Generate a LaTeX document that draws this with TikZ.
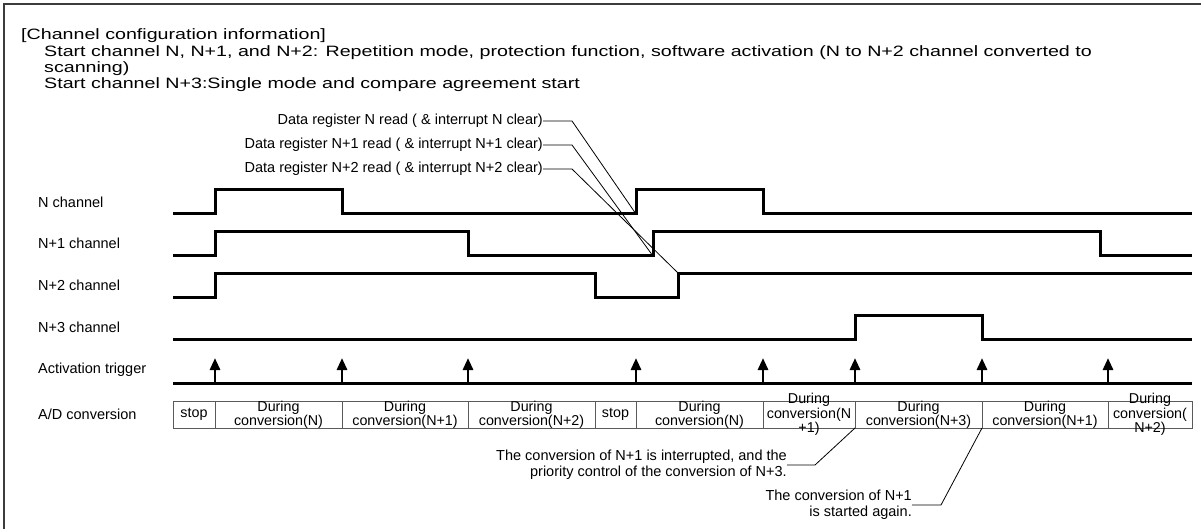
\documentclass[tikz,border=0pt]{standalone}
\usepackage{fontspec}
\setmainfont{Liberation Sans}
\newfontfamily\widefont[FakeStretch=1.31]{Liberation Sans}
\usetikzlibrary{arrows.meta}

\definecolor{tdframe}{RGB}{60, 60, 60}
\definecolor{tdbar}{RGB}{90, 90, 90}

\begin{document}
\begin{tikzpicture}[
    x=1pt, y=-1pt,
    font=\fontsize{14.5}{16}\selectfont,
    every node/.style={inner sep=0pt},
    frame/.style={draw=tdframe, line width=1.3pt},
    wave/.style={line width=3pt, line join=miter},
    trig/.style={line width=2.8pt, -{Triangle[width=10pt, length=12pt]}},
    cell/.style={draw=tdbar, line width=0.9pt},
    callout/.style={line width=0.8pt},
    cfgtext/.style={anchor=base west, font=\widefont\fontsize{15}{16}\selectfont},
    celltext/.style={align=center, font=\fontsize{14.3}{14.3}\selectfont},
  ]
    \useasboundingbox (0,0) rectangle (1201,529);
    \def\xs{173}   % start of the time axis
    \def\xe{1192}  % end of the time axis

    \draw[frame] (1201,4) -- (4,4) -- (4,529);

    % --- channel configuration text ---
    \node[cfgtext] (cfghead) at (21,40) {[Channel configuration information]};
    \node[cfgtext] (cfgrep) at (44,56.5)
      {Start channel N, N+1, and N+2: Repetition mode, protection function, software activation (N to N+2 channel converted to};
    \node[cfgtext] (cfgrepb) at (44,72.5) {scanning)};
    \node[cfgtext] (cfgcmp) at (44,88.5) {Start channel N+3:Single mode and compare agreement start};

    % --- row labels ---
    \foreach \name/\txt/\y in {lblN/N channel/202, lblNa/N+1 channel/243,
        lblNb/N+2 channel/285, lblNc/N+3 channel/327,
        lbltrig/Activation trigger/370, lblad/{A/D conversion}/414} {
      \node[anchor=west] (\name) at (38,\y) {\txt};
    }

    % --- channel waveforms ---
    \draw[wave] (\xs,214) -| (215,190) -| (342,214) -| (636,190) -| (763,214) -- (\xe,214);
    \draw[wave] (\xs,256) -| (215,232) -| (468,256) -| (653,232) -| (1100,256) -- (\xe,256);
    \draw[wave] (\xs,297) -| (215,273) -| (595,297) -| (678,273) -- (\xe,273);
    \draw[wave] (\xs,339) -| (855,315) -| (982,339) -- (\xe,339);
    \coordinate (riseN) at (636,214);
    \coordinate (riseNa) at (653,256);
    \coordinate (riseNb) at (678,273);

    % --- activation trigger ---
    \draw[wave] (\xs,383) -- (\xe,383);
    \foreach \t in {215,342,468,636,763,855,982,1108}
      \draw[trig] (\t,383) -- (\t,358);

    % --- A/D conversion bar ---
    \foreach \xa/\xb/\txt [count=\i] in {173/215/stop,
        215/342/{During\\conversion(N)}, 342/468/{During\\conversion(N+1)},
        468/595/{During\\conversion(N+2)}, 595/636/stop,
        636/763/{During\\conversion(N)}, 763/855/{During\\conversion(N\\+1)},
        855/982/{During\\conversion(N+3)}, 982/1108/{During\\conversion(N+1)},
        1108/1192/{During\\conversion(\\N+2)}} {
      \draw[cell] (\xa,401) rectangle (\xb,428);
      \node[celltext] (ad\i) at ({(\xa+\xb)/2},414.5) {\txt};
      \coordinate (adb\i) at (\xb,428);
    }

    % --- register read callouts ---
    \foreach \name/\txt/\y/\tgt in {
        clrN/{Data register N read ( \& interrupt N clear)}/121/riseN,
        clrNa/{Data register N+1 read ( \& interrupt N+1 clear)}/145/riseNa,
        clrNb/{Data register N+2 read ( \& interrupt N+2 clear)}/169/riseNb} {
      \node[anchor=east] (\name) at (543,\y) {\txt};
      \draw[callout] (\name.east) -- ++(29,0) -- (\tgt);
    }

    % --- conversion callouts ---
    \node[anchor=east, align=right] (intrpt) at (787,465)
      {The conversion of N+1 is interrupted, and the\\priority control of the conversion of N+3.};
    \draw[callout] (intrpt.east) -- ++(28,0) -- (adb7);
    \node[anchor=east, align=right] (restart) at (912,505)
      {The conversion of N+1\\is started again.};
    \draw[callout] (restart.east) -- ++(29,0) -- (adb8);
\end{tikzpicture}
\end{document}
